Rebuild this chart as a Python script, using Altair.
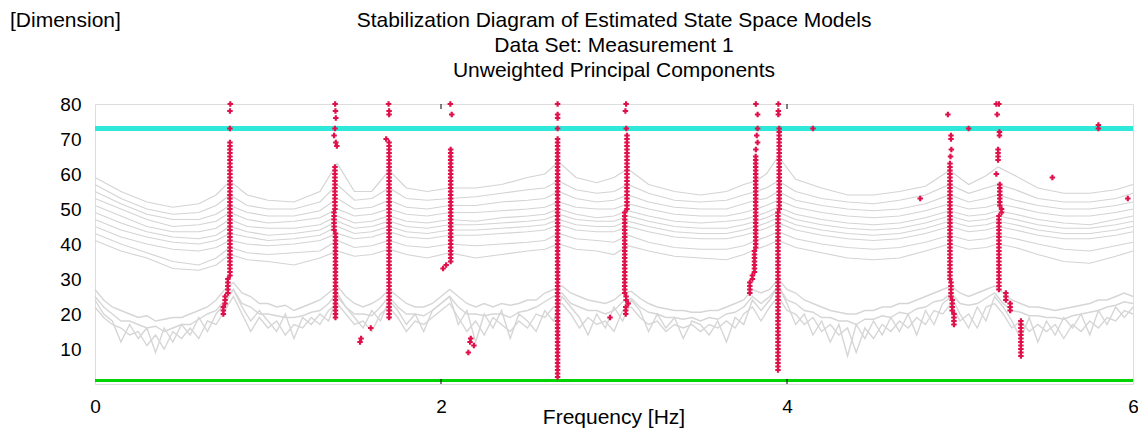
import altair as alt
import pandas as pd
import numpy as np

FONT = "Liberation Sans"

# ---- gray singular-value spectra (upper band) on a shared frequency grid ----
F = [0, .15, .3, .45, .6, .7, .78, .88, 1.0, 1.15, 1.3, 1.4, 1.5, 1.6, 1.7, 1.8, 1.92, 2.05, 2.2, 2.35,
     2.5, 2.6, 2.68, 2.78, 2.9, 3.0, 3.08, 3.2, 3.35, 3.5, 3.65, 3.75, 3.82, 3.88, 3.95, 4.05, 4.2, 4.35,
     4.5, 4.65, 4.8, 4.94, 5.05, 5.15, 5.22, 5.32, 5.45, 5.6, 5.75, 5.9, 6.0]
L1 = [59,55,52,50.5,51.5,54,58,54,52.5,52,55,63,55,55,61,56,55,56,56,57,59,60,63.5,59,57.5,59,61.5,57,55,54,
      55,57,58,60,65,58.5,56,54,54,55,56.5,61,57,59.5,62,59.5,56,54.5,54.5,55.5,57]
L2 = [57,53,50,48.5,49,51,54,51,50,50,52,57,52.5,53,56,53,52.5,53,53.5,54.5,55.5,56,58,55.5,54.5,55,57,54.5,
      52.5,52,52.5,54,55,56,58,55,53,52,51.5,52.5,54,57,54.5,56,57,55.5,53,52,52,53,54.5]
L3 = [55,51.5,48.5,47,47,48.5,51,49,48,48,49.5,53,50,50.5,52.5,50.5,50,51,51,52,52.5,53,55,53,52,52.5,54,52,
      50.5,50,50,51.5,52.5,53,55,52.5,51,50,49.5,50,51.5,54,52,53,54,52.5,51,50,50,51,52]
L4 = [53,50,47,45,45.5,46.5,49,47,46,46.5,47.5,50,48,48.5,50,48.5,48,49,49,49.5,50,50.5,52,50.5,50,50,51.5,50,
      48.5,48,48,49,50,51,52.5,50.5,49,48,47.5,48,49.5,51.5,50,50.5,51.5,50.5,49,48,48,49,50]
L5 = [51,48,45,43.5,43.5,44.5,47,45,44.5,44.5,45.5,48,46,46.5,48,46.5,46,47,46.5,47.5,48,48.5,50,48.5,47.5,48,
      49.5,48,46.5,46,46.5,47,48,49,50.5,48.5,47,46,45.5,46,47.5,49.5,48,48.5,49.5,48.5,47,46,45.5,47,48]
L6 = [49,46,43.5,42,41.5,42.5,45,43.5,42.5,43,44,46.5,44.5,45,46.5,45,44.5,45.5,45.5,46,46.5,47,48.5,47,46.5,
      46.5,48,46.5,45,44.5,44.5,45.5,46.5,47.5,49,47,45.5,44.5,44,44.5,46,48,46.5,47,48,47,45.5,44.5,44.5,45.5,46.5]
L7 = [47,44,42,40.5,40,41,43,42,41,41.5,42.5,45,43,43.5,45,43.5,43,44,44,44.5,45,45.5,47,45.5,45,45,46.5,45,
      43.5,43,43,44,45,46,47.5,45.5,44,43,42.5,43,44.5,46.5,45,45.5,46.5,45.5,44,43,43,44,45]
L8 = [45,42,40,38.5,38,39,41,40,39.5,40,41,43,41.5,42,43.5,42,41.5,42.5,42.5,43,43.5,44,45.5,44,43.5,43.5,45,
      43.5,42,41.5,41.5,42.5,43.5,44.5,46,44,42.5,41.5,41,41.5,43,45,43.5,44,45,44,42.5,41.5,41.5,42.5,43.5]
L9 = [43,40,37.5,35,34,36,39,37.5,37,37.5,38,41,39,39.5,41,39.5,39,40,39.5,40,40.5,41,43,41.5,41,40.5,42.5,
      40.5,39,38.5,38.5,39.5,41,42,43.5,41.5,40,39,38.5,39,40.5,42.5,41,41.5,42.5,41.5,40,38.5,38,39.5,40.5]
L10 = [41,38,36,33,32.5,34,37,35.5,35,34,36,38,36.5,37,38.5,37,36,37.5,36,37,38,38.5,40,38.5,38,37,39.5,38,
       36.5,36,35.5,37,38.5,39.5,41,39,37.5,36,35.5,36,38,40,38.5,39,40,39,37,35,34.5,36.5,38]

# ---- gray spectra (lower band) on a 0.05 Hz grid ----
G = [round(i * 0.05, 2) for i in range(121)]
LA = [27,24,22,21,20,19,19.5,18,18.5,19, 19,20,21,22,24,27,29,26,25,23,
      23,22,22.5,21,22,23,24,26,28,25, 23,22,23,24.5,27,25,23,22,22,23,
      25,27,25,23,22,23,22,23,22.5,23, 24,24,26,27,28,26,25,24,23.5,23,
      24,26,26.5,24.5,23,22,21.5,21,21,20.5, 20.5,21,21,22,23,24,27,26,27,30,
      27,26,24,23,22,21,20.5,20,20,21, 21,22,22,23,23,24,25,26,27,28,
      26,25,26,27,28,26,24,23,22,22, 21.5,21,21.5,22,22.5,23,24,24,25,26, 25]
LB = [22,19,17,16,14,15,11,14,10,15, 13,16,13,18,17,21,25,20,15,19,
      16,18,14,17,16,19,17,21,23,20, 17,18,15,20,22,19,15,18,17,19,
      21,23,19,15,18,14,19,17,15,18, 16,20,19,22,23,20,16,19,17,18,
      15,21,22,19,17,18,15,17,16,17, 15,17,16,18,16,20,22,18,22,25,
      21,20,17,19,15,17,14,16,9,16, 13,17,15,18,16,19,17,21,20,23,
      18,20,16,22,23,20,16,18,15,17, 15,17,13,17,15,18,16,19,18,21, 20]
LC = [25,22,20,18,18,17,16,16.5,15,16, 17,17,18.5,20,21,24,27,23,22,20,
      20,19.5,19,19,19.5,20.5,21,23,26,22, 20,20,19.5,22,25,22,20,20,19.5,21,
      23,25,22,20,20,19.5,20,20,19,20.5, 21,22,23.5,25,26,23,22,21,21,20,
      21,23.5,24.5,22,20.5,20,19,19,18.5,19, 18,19,18.5,20,20.5,22,25,23,25,28,
      24,23,21,20.5,19,19,18,18,17,18.5, 18.5,19.5,19,20.5,20,21.5,22,23.5,24,26,
      23,22.5,23,24.5,26,23,21,20.5,19.5,19.5, 19,19,18.5,19.5,20,20.5,21,22,22.5,23.5, 23]
LE = [24,20,18,12,17,13,16,9,16,12, 17,14,19,15,20,23,27,22,18,21,
      18,15,20,13,19,17,20,18,25,22, 19,16,21,18,24,21,17,20,15,21,
      23,25,17,21,12,20,16,21,13,20, 18,15,21,18,25,22,19,14,20,16,
      22,18,24,21,15,20,16,19,13,18, 17,14,18,12,19,17,24,21,24,28,
      23,17,20,14,18,12,17,8,17,13, 18,14,19,15,20,14,21,17,23,25,
      20,16,22,18,25,22,18,13,19,12, 18,14,19,16,20,14,21,17,22,19, 22]

# ---- stable poles (red crosses): frequency, lowest and highest model dimension ----
seg_f = [0.780, 0.768, 0.752, 0.742, 0.780, 0.780, 0.782,
         1.387, 1.382, 1.390, 1.382, 1.392, 1.398, 1.387, 1.392, 1.390, 1.388,
         1.700, 1.683, 1.700, 1.697,
         2.056, 2.030, 2.012, 2.054, 2.062,
         2.674, 2.674, 2.674, 2.674, 2.674,
         3.075, 3.062, 3.070, 3.082, 3.068, 3.071, 3.066, 3.070,
         3.819, 3.812, 3.800, 3.785, 3.820, 3.830, 3.825, 3.830, 3.830, 3.820,
         3.955, 3.948, 3.950, 3.950,
         4.942, 4.948, 4.955, 4.965, 4.945, 4.950, 4.948, 4.930,
         5.225, 5.240, 5.230, 5.210, 5.220, 5.228, 5.215, 5.210, 5.225, 5.265, 5.290, 5.352,
         1.532, 1.538, 1.594, 2.158, 2.168, 2.190, 2.172, 2.977, 4.150, 4.770, 5.050, 5.534,
         5.800, 5.970]
seg_lo = [31, 26, 23, 20, 73, 78, 80,
          50, 44, 19, 71, 69, 68, 73, 76, 78, 80,
          19, 70, 77, 80,
          35, 34, 33, 80, 77,
          2, 73, 76, 77, 80,
          50, 26, 24, 23, 20, 73, 78, 80,
          39, 32, 30, 26, 67, 69, 71, 73, 77, 80,
          50, 4, 77, 80,
          30, 25, 21, 17, 65, 67, 70, 77,
          27, 49, 51, 60, 64, 71, 77, 80, 80, 24, 21, 8,
          12, 13, 16, 9, 12, 11, 13, 19, 73, 53, 73, 59,
          73, 53]
seg_hi = [69, 30, 25, 22, 73, 78, 80,
          62, 49, 43, 71, 69, 68, 73, 76, 78, 80,
          69, 70, 78, 80,
          67, 34, 33, 80, 77,
          70, 73, 76, 77, 80,
          71, 49, 25, 23, 22, 73, 78, 80,
          65, 38, 31, 29, 67, 69, 71, 73, 77, 80,
          73, 49, 78, 80,
          63, 29, 24, 20, 65, 67, 71, 77,
          48, 50, 57, 60, 67, 72, 77, 80, 80, 26, 23, 18,
          12, 13, 16, 9, 12, 11, 13, 19, 73, 53, 73, 59,
          74, 53]

X_TICKS = [0, 2, 4, 6]
Y_TICKS = [10, 20, 30, 40, 50, 60, 70, 80]
CYAN_LEVEL = [73]
GREEN_LEVEL = [1]
TITLE_LINES = ["Stabilization Diagram of Estimated State Space Models",
               "Data Set: Measurement 1",
               "Unweighted Principal Components"]
X_TITLE = "Frequency [Hz]"
Y_TITLE = "[Dimension]"

# ---- build tables ----
rows = []
for name, vals in zip(["u1", "u2", "u3", "u4", "u5", "u6", "u7", "u8", "u9", "u10"],
                      [L1, L2, L3, L4, L5, L6, L7, L8, L9, L10]):
    d = pd.DataFrame({"f": F, "v": vals})
    d["line"] = name
    rows.append(d)
upper = pd.concat(rows, ignore_index=True)
rows = []
for name, vals in zip(["la", "lb", "lc", "le"], [LA, LB, LC, LE]):
    d = pd.DataFrame({"f": G, "v": vals})
    d["line"] = name
    rows.append(d)
lower = pd.concat(rows, ignore_index=True)

pts = []
for f, lo, hi in zip(seg_f, seg_lo, seg_hi):
    for dim in range(lo, hi + 1):
        pts.append({"f": f, "v": dim})
poles = pd.DataFrame(pts)

W, H = 1038, 280
xs = alt.Scale(domain=[0, 6], nice=False, zero=False)
ys = alt.Scale(domain=[0, 80], nice=False)

xax = alt.Axis(values=X_TICKS, title=None, ticks=False, domain=False, grid=False,
               labelPadding=13, labelFont=FONT, labelFontSize=19, labelColor="black",
               labelFlush=False, labelOverlap=False, format="d")
yax = alt.Axis(values=Y_TICKS, title=None, ticks=False, domain=False, grid=False, labelPadding=14,
               labelFont=FONT, labelFontSize=19, labelColor="black", labelOverlap=False,
               labelFlush=False, format="d")

lower_lines = alt.Chart(lower).mark_line(color="#d6d6d6", strokeWidth=1.4).encode(
    x=alt.X("f:Q", scale=xs, axis=xax),
    y=alt.Y("v:Q", scale=ys, axis=yax),
    detail="line:N",
)
upper_lines = alt.Chart(upper).mark_line(color="#d4d4d4", strokeWidth=1.2).encode(
    x=alt.X("f:Q", scale=xs, axis=xax),
    y=alt.Y("v:Q", scale=ys, axis=yax),
    detail="line:N",
)

cyan = alt.Chart(pd.DataFrame({"v": CYAN_LEVEL})).mark_rule(color="#2ee8da", strokeWidth=5).encode(
    y=alt.Y("v:Q", scale=ys, axis=yax)
)
green = alt.Chart(pd.DataFrame({"v": GREEN_LEVEL})).mark_rule(color="#00d400", strokeWidth=3).encode(
    y=alt.Y("v:Q", scale=ys, axis=yax)
)

red = alt.Chart(poles).mark_point(shape="cross", filled=True, color="#e0104a", size=30, opacity=1).encode(
    x=alt.X("f:Q", scale=xs, axis=xax),
    y=alt.Y("v:Q", scale=ys, axis=yax),
)

tick_df = pd.DataFrame({"f": [2, 4]})
top_ticks = alt.Chart(tick_df).mark_rule(color="black", strokeWidth=1).encode(
    x=alt.X("f:Q", scale=xs, axis=xax), y=alt.value(0), y2=alt.value(5)
)
bot_ticks = alt.Chart(tick_df).mark_rule(color="black", strokeWidth=1).encode(
    x=alt.X("f:Q", scale=xs, axis=xax), y=alt.value(H - 5), y2=alt.value(H)
)

txt_df = pd.DataFrame({
    "t": TITLE_LINES + [X_TITLE],
    "px": [W / 2] * 4,
    "py": [-83, -58, -33, 314],
})
texts = alt.Chart(txt_df).mark_text(
    align="center", baseline="middle", font=FONT, fontSize=21, color="black"
).encode(x=alt.X("px:Q", scale=None), y=alt.Y("py:Q", scale=None), text="t:N")

dim_label = alt.Chart(pd.DataFrame({"t": [Y_TITLE]})).mark_text(
    align="left", baseline="middle", font=FONT, fontSize=21, color="black"
).encode(x=alt.value(-85), y=alt.value(-83), text="t:N")

chart = alt.layer(lower_lines, upper_lines, cyan, green, red, top_ticks, bot_ticks,
                  texts, dim_label).properties(
    width=W,
    height=H,
    autosize=alt.AutoSizeParams(type="none"),
    padding={"left": 87, "top": 96, "right": 5, "bottom": 45},
).configure_view(stroke="#1a1a1a", strokeWidth=2).configure(background="white")

chart.save("out.html", embed_options={"renderer": "svg", "actions": False})
